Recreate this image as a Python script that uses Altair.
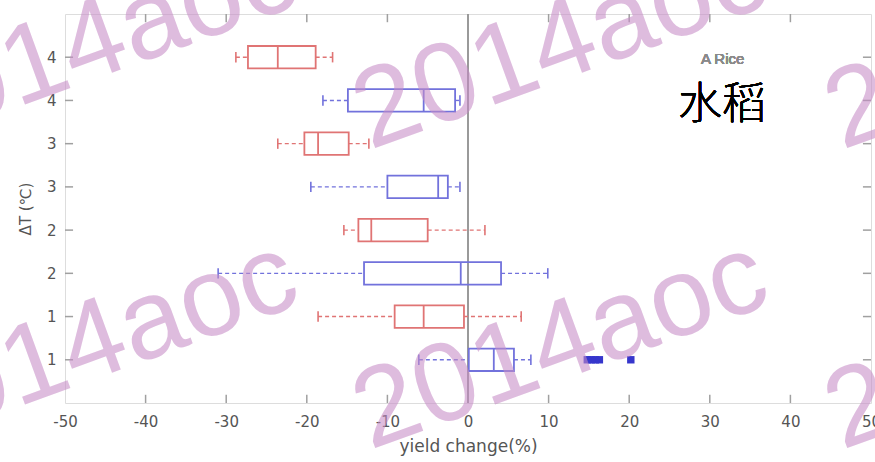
import json
import altair as alt
import pandas as pd

# ---- data ----
positions = [1, 2, 3, 4, 5, 6, 7, 8]
row_labels = ["1", "1", "2", "2", "3", "3", "4", "4"]
groups = ["blue", "red", "blue", "red", "blue", "red", "blue", "red"]
lo = [-6.1, -18.6, -31.0, -15.4, -19.5, -23.6, -18.0, -28.8]
q1 = [0.1, -9.1, -12.9, -13.6, -10.0, -20.3, -14.9, -27.3]
med = [3.2, -5.5, -0.9, -12.0, -3.7, -18.6, -5.5, -23.6]
q3 = [5.7, -0.5, 4.1, -5.0, -2.5, -14.8, -1.6, -18.9]
hi = [7.8, 6.6, 9.9, 2.1, -1.0, -12.3, -1.0, -16.8]
outlier_vals = [14.8, 15.3, 15.8, 16.3, 20.2]
outlier_pos = [1, 1, 1, 1, 1]
x_ticks = [-50, -40, -30, -20, -10, 0, 10, 20, 30, 40, 50]
inner_x_ticks = [-40, -30, -20, -10, 10, 20, 30, 40]

box_df = pd.DataFrame({"pos": positions, "grp": groups, "lo": lo, "q1": q1,
                       "med": med, "q3": q3, "hi": hi})
out_df = pd.DataFrame({"pos": outlier_pos, "v": outlier_vals})
xt_df = pd.DataFrame({"t": inner_x_ticks})
yt_df = pd.DataFrame({"t": positions})

BLUE = "#7272dc"
RED = "#e07474"
GRAY = "#a0a0a0"
TXT = "#555555"
FONT = "DejaVu Sans"

xs = alt.Scale(domain=[-50, 50], nice=False, zero=False)
ys = alt.Scale(domain=[0, 9], nice=False, zero=False)
col = alt.Color("grp:N", scale=alt.Scale(domain=["blue", "red"], range=[BLUE, RED]), legend=None)

xaxis = alt.Axis(values=x_ticks, title="yield change(%)", grid=False, domain=False, ticks=False,
                 labelExpr="replace(format(datum.value, 'd'), '−', '-')",
                 labelFont=FONT, labelFontSize=15, labelColor=TXT, labelPadding=11,
                 titleFont=FONT, titleFontSize=17, titleFontWeight="normal", titleColor=TXT,
                 titlePadding=9, labelFlush=False)
label_expr = json.dumps(row_labels) + "[datum.value - 1]"
yaxis = alt.Axis(values=positions, labelExpr=label_expr, title="ΔT (℃)", grid=False,
                 domain=False, ticks=False, labelFont=FONT, labelFontSize=15, labelColor=TXT,
                 labelPadding=9, titleFont=FONT, titleFontSize=15, titleFontWeight="normal",
                 titleColor=TXT, titlePadding=13)

base = alt.Chart(box_df).transform_calculate(
    b0="datum.pos - 0.26", b1="datum.pos + 0.26",
    c0="datum.pos - 0.12", c1="datum.pos + 0.12")

whisk_lo = base.mark_rule(strokeDash=[4, 3], strokeWidth=1.4).encode(
    x=alt.X("lo:Q", scale=xs, axis=xaxis), x2="q1:Q",
    y=alt.Y("pos:Q", scale=ys, axis=yaxis), color=col)
whisk_hi = base.mark_rule(strokeDash=[4, 3], strokeWidth=1.4).encode(
    x=alt.X("q3:Q", scale=xs), x2="hi:Q", y=alt.Y("pos:Q", scale=ys), color=col)
cap_lo = base.mark_rule(strokeWidth=1.6).encode(
    x=alt.X("lo:Q", scale=xs), y=alt.Y("c0:Q", scale=ys), y2="c1:Q", color=col)
cap_hi = base.mark_rule(strokeWidth=1.6).encode(
    x=alt.X("hi:Q", scale=xs), y=alt.Y("c0:Q", scale=ys), y2="c1:Q", color=col)
boxes = base.mark_rect(fill="white", fillOpacity=0, strokeWidth=1.8).encode(
    x=alt.X("q1:Q", scale=xs), x2="q3:Q", y=alt.Y("b0:Q", scale=ys), y2="b1:Q",
    stroke=alt.Stroke("grp:N", scale=alt.Scale(domain=["blue", "red"], range=[BLUE, RED]), legend=None))
medians = base.mark_rule(strokeWidth=1.8).encode(
    x=alt.X("med:Q", scale=xs), y=alt.Y("b0:Q", scale=ys), y2="b1:Q", color=col)
outliers = alt.Chart(out_df).mark_square(size=55, color="#3636cc", opacity=1, filled=True).encode(
    x=alt.X("v:Q", scale=xs), y=alt.Y("pos:Q", scale=ys))

zero_line = alt.Chart(box_df).mark_rule(color="#9a9a9a", strokeWidth=2).encode(
    x=alt.datum(0, scale=xs))

tick_style = dict(color=GRAY, strokeWidth=1.5)
xt_bot = alt.Chart(xt_df).mark_rule(**tick_style).encode(
    x=alt.X("t:Q", scale=xs), y=alt.datum(0, scale=ys), y2=alt.datum(0.19))
xt_top = alt.Chart(xt_df).mark_rule(**tick_style).encode(
    x=alt.X("t:Q", scale=xs), y=alt.datum(9, scale=ys), y2=alt.datum(8.81))
yt_left = alt.Chart(yt_df).mark_rule(**tick_style).encode(
    y=alt.Y("t:Q", scale=ys), x=alt.datum(-50, scale=xs), x2=alt.datum(-49.0))
yt_right = alt.Chart(yt_df).mark_rule(**tick_style).encode(
    y=alt.Y("t:Q", scale=ys), x=alt.datum(50, scale=xs), x2=alt.datum(49.0))

rice_en = alt.Chart(box_df).mark_text(text="A Rice", font="Liberation Sans", fontSize=15,
                                      color="#8a8a8a", fontWeight="normal",
                                      align="center", baseline="middle").encode(
    x=alt.datum(31.6, scale=xs), y=alt.datum(7.95, scale=ys))
rice_zh = alt.Chart(box_df).mark_text(text="水稻", font="Noto Sans CJK SC", fontSize=44,
                                      fontWeight=300, color="#000000",
                                      align="center", baseline="middle").encode(
    x=alt.datum(31.5, scale=xs), y=alt.datum(6.87, scale=ys))

# decorative watermark overlay (as in the reference image)
wm_df = pd.DataFrame({"k": [0]})
wm = []
for wx in [-165, 305, 777]:
    for wy in [136, 436]:
        wm.append(alt.Chart(wm_df).mark_text(
            text="2014aoc", font="Liberation Sans", fontSize=112, angle=340,
            align="left", baseline="alphabetic", fill="#c68cc6", fillOpacity=0.58).encode(
            x=alt.value(wx), y=alt.value(wy)))

chart = alt.layer(
    zero_line, xt_bot, xt_top, yt_left, yt_right,
    whisk_lo, whisk_hi, cap_lo, cap_hi, boxes, medians, outliers,
    rice_en, rice_zh, *wm
).properties(
    width=806, height=389,
    autosize=alt.AutoSizeParams(type="none"),
    padding={"left": 65, "top": 14, "right": 4, "bottom": 59},
).configure_view(stroke=GRAY, strokeWidth=3).configure(background="white")

chart.save("out.html", embed_options={"renderer": "svg", "actions": False})
